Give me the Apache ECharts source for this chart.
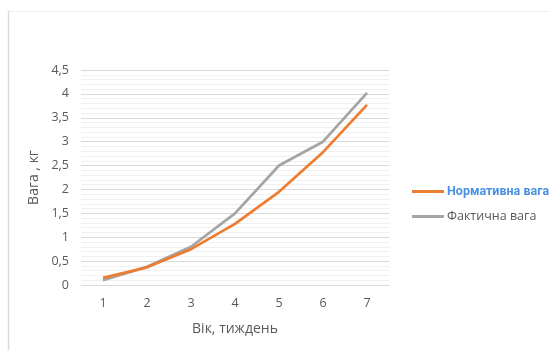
<!DOCTYPE html>
<html>
<head>
<meta charset="utf-8">
<script src="https://cdn.jsdelivr.net/npm/echarts@6/dist/echarts.min.js"></script>
<style>html,body{margin:0;padding:0;background:#fff;}#c{width:550px;height:350px;}</style>
</head>
<body>
<div id="c"></div>
<script>
var categories = ['1', '2', '3', '4', '5', '6', '7'];
var normValues = [0.15, 0.37, 0.75, 1.28, 1.95, 2.78, 3.77];
var factValues = [0.10, 0.38, 0.80, 1.50, 2.50, 3.00, 4.02];
var seriesNames = ['Нормативна вага', 'Фактична вага'];
var xAxisName = 'Вік, тиждень';
var yAxisName = 'Вага , кг';

var chart = echarts.init(document.getElementById('c'), null, {renderer: 'canvas'});
var font = '"Open Sans", "Noto Sans", sans-serif';
chart.setOption({
  animation: false,
  backgroundColor: '#fff',
  graphic: [
    {type: 'line', shape: {x1: 8, y1: 11.5, x2: 550, y2: 11.5}, style: {stroke: '#efefef', lineWidth: 1}},
    {type: 'line', shape: {x1: 8.5, y1: 11, x2: 8.5, y2: 350}, style: {stroke: '#d9d9d9', lineWidth: 1.5}}
  ],
  grid: {left: 81, top: 70, width: 308, height: 215, containLabel: false},
  legend: {
    orient: 'vertical',
    left: 412,
    top: 185,
    padding: 0,
    itemWidth: 32,
    itemHeight: 3,
    itemGap: 12,
    icon: 'rect',
    data: [
      {name: seriesNames[0], textStyle: {color: '#4a90e2', fontWeight: 'bold', fontSize: 12.5, fontFamily: 'Roboto, "Noto Sans", sans-serif'}},
      {name: seriesNames[1], textStyle: {color: '#595959', fontSize: 12.5, fontFamily: font}}
    ],
    textStyle: {padding: [0, 0, 0, -2]}
  },
  xAxis: {
    type: 'category',
    data: categories,
    boundaryGap: true,
    name: xAxisName,
    nameLocation: 'middle',
    nameGap: 37,
    nameTextStyle: {color: '#595959', fontSize: 14, fontFamily: font},
    axisLine: {show: true, lineStyle: {color: '#d9d9d9'}},
    axisTick: {show: false},
    axisLabel: {color: '#595959', fontSize: 12.5, fontFamily: font, margin: 12}
  },
  yAxis: {
    type: 'value',
    min: 0,
    max: 4.5,
    interval: 0.5,
    name: yAxisName,
    nameLocation: 'middle',
    nameGap: 35,
    nameTextStyle: {color: '#595959', fontSize: 14, fontFamily: font},
    axisLine: {show: false},
    axisTick: {show: false},
    axisLabel: {color: '#595959', fontSize: 12.5, fontFamily: font, margin: 12,
      formatter: function (v) { return String(v).replace('.', ','); }},
    splitLine: {show: true, lineStyle: {color: '#d9d9d9', width: 1}},
    minorTick: {show: false, splitNumber: 5},
    minorSplitLine: {show: true, lineStyle: {color: '#f0f0f0', width: 1}}
  },
  series: [
    {name: seriesNames[0], type: 'line', data: normValues, symbol: 'none',
      lineStyle: {color: '#ed7d31', width: 2.75}, itemStyle: {color: '#ed7d31'}, z: 3},
    {name: seriesNames[1], type: 'line', data: factValues, symbol: 'none',
      lineStyle: {color: '#a5a5a5', width: 2.75}, itemStyle: {color: '#a5a5a5'}, z: 2}
  ]
});
</script>
</body>
</html>
